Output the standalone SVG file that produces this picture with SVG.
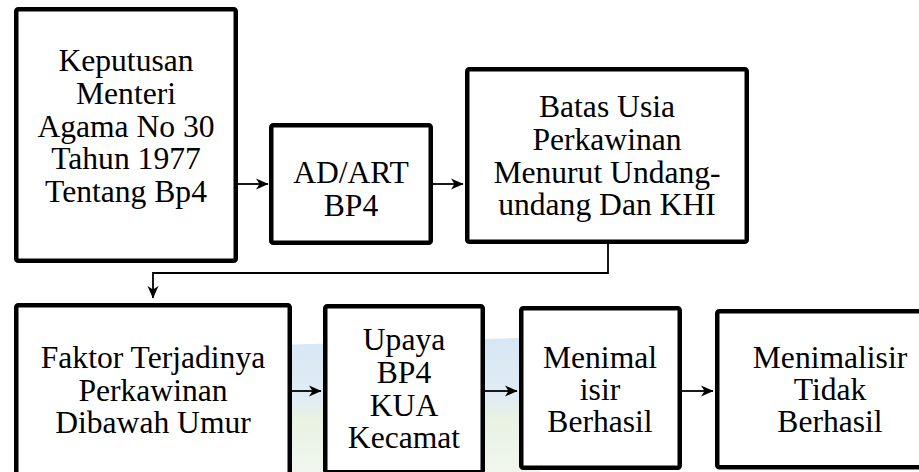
<svg xmlns="http://www.w3.org/2000/svg" width="919" height="472" viewBox="0 0 919 472">
<style>
.box{fill:#fff;stroke:#000;stroke-width:4.5;}
.lbl{font-size:31.6px;fill:#000;text-anchor:middle;}
.conn{fill:none;stroke:#000;stroke-width:1.8;}
</style>
<defs>
<marker id="ah" markerWidth="14" markerHeight="14" refX="12" refY="7" orient="auto" markerUnits="userSpaceOnUse">
<path d="M0,1.5 L12.5,7 L0,12.5 L3.5,7 z" fill="#000"/>
</marker>
<linearGradient id="wm" x1="0" y1="0" x2="0" y2="1">
<stop offset="0" stop-color="#cfe3f2"/>
<stop offset="0.45" stop-color="#dbe9f3"/>
<stop offset="0.6" stop-color="#e4efdd"/>
<stop offset="1" stop-color="#eef5ea"/>
</linearGradient>
</defs>
<rect width="919" height="472" fill="#fff"/>
<g id="watermark" opacity="0.85">
<path d="M275,345 L520,338 L540,400 L540,472 L270,472 Z" fill="url(#wm)"/>
</g>
<g id="connectors">
<line class="conn" x1="238" y1="184" x2="268" y2="184" marker-end="url(#ah)"/>
<line class="conn" x1="433" y1="184" x2="463" y2="184" marker-end="url(#ah)"/>
<polyline class="conn" points="608,244 608,273 153,273 153,298" marker-end="url(#ah)"/>
<line class="conn" x1="292" y1="391" x2="321" y2="391" marker-end="url(#ah)"/>
<line class="conn" x1="485" y1="391" x2="517" y2="391" marker-end="url(#ah)"/>
<line class="conn" x1="682" y1="391" x2="713" y2="391" marker-end="url(#ah)"/>
</g>
<g font-family="'Liberation Serif', 'Times New Roman', 'DejaVu Serif', serif">
<g id="n1">
<rect class="box" x="16.25" y="9.25" width="219.5" height="251.5" rx="2"/>
<text class="lbl" x="126" y="71">Keputusan</text>
<text class="lbl" x="126" y="104">Menteri</text>
<text class="lbl" x="126" y="137">Agama No 30</text>
<text class="lbl" x="126" y="169">Tahun 1977</text>
<text class="lbl" x="126" y="202">Tentang Bp4</text>
</g>
<g id="n2">
<rect class="box" x="271.25" y="125.25" width="159.5" height="117.5" rx="2"/>
<text class="lbl" x="351" y="183">AD/ART</text>
<text class="lbl" x="351" y="216">BP4</text>
</g>
<g id="n3">
<rect class="box" x="467.25" y="69.25" width="279.5" height="172.5" rx="2"/>
<text class="lbl" x="607" y="117">Batas Usia</text>
<text class="lbl" x="607" y="150">Perkawinan</text>
<text class="lbl" x="607" y="183">Menurut Undang-</text>
<text class="lbl" x="607" y="215">undang Dan KHI</text>
</g>
<g id="n4">
<rect class="box" x="16.25" y="305.25" width="273.5" height="180" rx="2"/>
<text class="lbl" x="153" y="368">Faktor Terjadinya</text>
<text class="lbl" x="153" y="401">Perkawinan</text>
<text class="lbl" x="153" y="433">Dibawah Umur</text>
</g>
<g id="n5">
<rect class="box" x="325.25" y="306.25" width="157.5" height="166" rx="2"/>
<text class="lbl" x="404" y="350">Upaya</text>
<text class="lbl" x="404" y="383">BP4</text>
<text class="lbl" x="404" y="416">KUA</text>
<text class="lbl" x="404" y="448">Kecamat</text>
</g>
<g id="n6">
<rect class="box" x="521.25" y="308.25" width="158.5" height="159.5" rx="2"/>
<text class="lbl" x="600" y="368">Menimal</text>
<text class="lbl" x="600" y="400">isir</text>
<text class="lbl" x="600" y="432">Berhasil</text>
</g>
<g id="n7">
<rect class="box" x="717.25" y="311.25" width="240" height="156" rx="2"/>
<text class="lbl" x="830" y="368">Menimalisir</text>
<text class="lbl" x="830" y="400">Tidak</text>
<text class="lbl" x="830" y="432">Berhasil</text>
</g>
</g>
</svg>
